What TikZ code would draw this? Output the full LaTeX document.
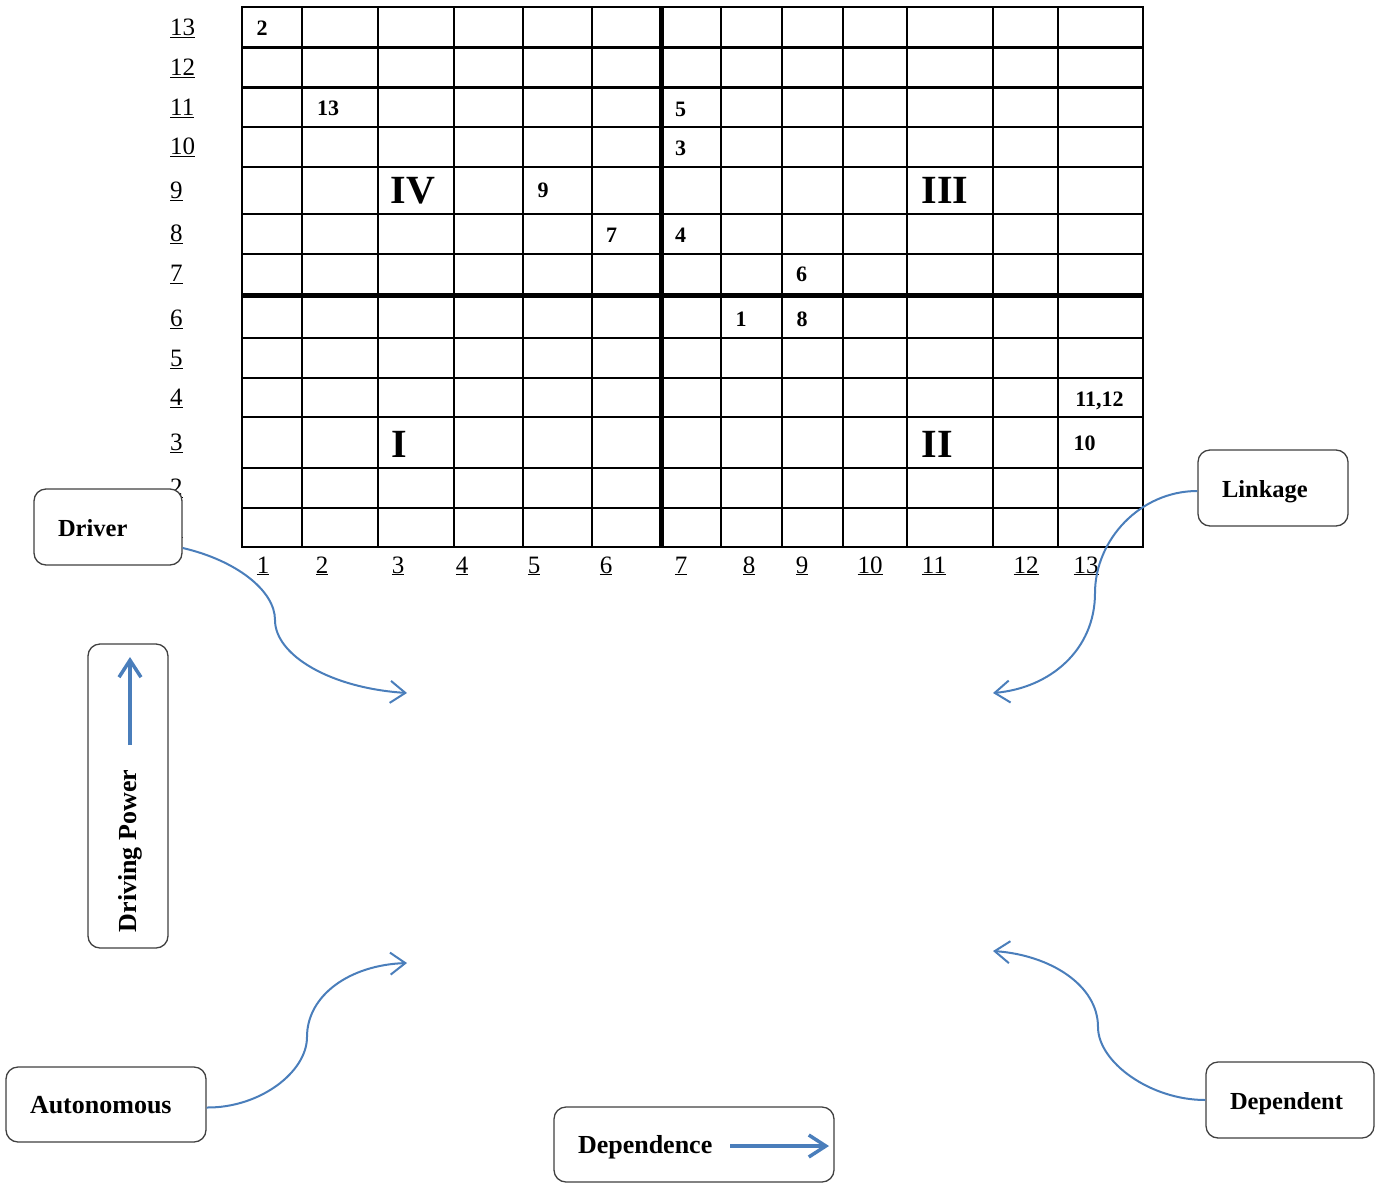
\documentclass[tikz,border=0pt]{standalone}
\usepackage{fontspec}
\setmainfont{Liberation Serif}
\usetikzlibrary{arrows.meta}
\definecolor{arrowblue}{HTML}{4A7EBB}
\definecolor{boxgray}{HTML}{404040}
\newcommand\myfs[1]{\fontsize{#1pt}{#1pt}\selectfont}
\tikzset{
 gridline/.style={line width=2.3pt,black},
 thickline/.style={line width=5pt,black},
 thinline/.style={line width=1.3pt,black},
 axislabel/.style={font=\myfs{25},inner sep=0pt},
 cellnum/.style={font=\bfseries\myfs{22},inner sep=0pt,anchor=base},
 quadnum/.style={font=\bfseries\myfs{40},inner sep=0pt,anchor=base},
 roundbox/.style={draw=boxgray,line width=1.3pt,rounded corners=12pt,fill=white,inner xsep=24pt,inner ysep=0pt,align=left,text height=18pt,text depth=0pt,font=\bfseries\myfs{24.5}},
 curvearrow/.style={draw=arrowblue,line width=2pt,-{Straight Barb[length=15pt,width=22pt]}},
 boxarrow/.style={draw=arrowblue,line width=3.5pt,-{Straight Barb[length=17pt,width=22pt]}},
}
\begin{document}
\begin{tikzpicture}[x=1pt,y=-1pt]
\useasboundingbox (0,0) rectangle (1383,1183);
% grid
\draw[gridline] (242,7) rectangle (1143,547);
\foreach \y in {47.5,87.5,127,167,214,254,338,378,417,468,508}
  \draw[gridline] (242,\y) -- (1143,\y);
\foreach \x in {302,378,454,523,592,782,843,907,993,1058}
  \draw[gridline] (\x,7) -- (\x,547);
\draw[thinline] (721,7) -- (721,547);
\draw[thickline] (661,7) -- (661,547);
\draw[thickline] (242,295.5) -- (1143,295.5);
% row labels
\foreach \n/\y in {13/27,12/67,11/107,10/146,9/190,8/233,7/273,6/318,5/358,4/397,3/442,2/487,1/527}
  \node[axislabel,anchor=base west] (r\n) at (170,\y+8.5) {\underline{\n}};
% column labels
\foreach \n/\x in {1/263,2/322,3/398,4/462,5/534,6/606,7/681,8/749,9/802,10/870,11/934,12/1026,13/1086}
  \node[axislabel,anchor=base] (c\n) at (\x,573) {\underline{\n}};
% cell numbers
\node[cellnum] (v2) at (262,35) {2};
\node[cellnum] (v13) at (328,115) {13};
\node[cellnum] (v5) at (680.5,116) {5};
\node[cellnum] (v3) at (680.5,155) {3};
\node[cellnum] (v9) at (543,197) {9};
\node[cellnum] (v7) at (611.5,242) {7};
\node[cellnum] (v4) at (680.5,242) {4};
\node[cellnum] (v6) at (801.5,281.5) {6};
\node[cellnum] (v1) at (741,326.5) {1};
\node[cellnum] (v8) at (802,326.5) {8};
\node[cellnum] (v1112) at (1099.5,406) {11,12};
\node[cellnum] (v10) at (1084.5,450.5) {10};
% quadrant numerals
\node[quadnum] (qIV) at (413,203) {IV};
\node[quadnum] (qIII) at (945,203) {III};
\node[quadnum] (qI) at (399.5,457) {I};
\node[quadnum] (qII) at (937.5,457) {II};
% boxes
\node[roundbox,text width=100pt,minimum height=76pt] (driver) at (108,527) {Driver};
\node[roundbox,text width=102pt,minimum height=76pt] (linkage) at (1273,488) {Linkage};
\node[roundbox,text width=152pt,minimum height=75pt,font=\bfseries\myfs{26}] (auton) at (106,1104.5) {Autonomous};
\node[roundbox,text width=232pt,minimum height=75pt,font=\bfseries\myfs{26}] (depce) at (694,1144.5) {Dependence};
\node[roundbox,text width=120pt,minimum height=76pt] (dependent) at (1290,1100) {Dependent};
\node[draw=boxgray,line width=1.3pt,rounded corners=12pt,fill=white,minimum width=80pt,minimum height=304pt,inner sep=0pt] (dpbox) at (128,796) {};
\node[font=\bfseries\myfs{26},rotate=90,inner sep=0pt] (dptext) at (130,851) {Driving Power};
% box arrows
\coordinate (dpA0) at (130,745);
\coordinate (dpA1) at (130,657);
\draw[boxarrow] (dpA0) -- (dpA1);
\coordinate (deA0) at (730,1146);
\coordinate (deA1) at (829,1146);
\draw[boxarrow] (deA0) -- (deA1);
% curve targets
\coordinate (dA) at (407,693);
\coordinate (lA) at (993,693);
\coordinate (aA) at (407,963);
\coordinate (pA) at (993,951);
% curves
\draw[curvearrow] ([yshift=-21pt]driver.east) .. controls (235,560) and (275,590) .. (275,620) .. controls (275,655) and (330,688) .. (dA);
\draw[curvearrow] ([yshift=-3pt]linkage.west) .. controls (1140,491) and (1095,540) .. (1095,593) .. controls (1095,650) and (1050,688) .. (lA);
\draw[curvearrow] ([yshift=-3pt]auton.east) .. controls (260,1108) and (307,1072) .. (307,1037) .. controls (307,995) and (350,965) .. (aA);
\draw[curvearrow] (dependent.west) .. controls (1150,1100) and (1098,1062) .. (1098,1027) .. controls (1098,985) and (1050,955) .. (pA);
\end{tikzpicture}
\end{document}
